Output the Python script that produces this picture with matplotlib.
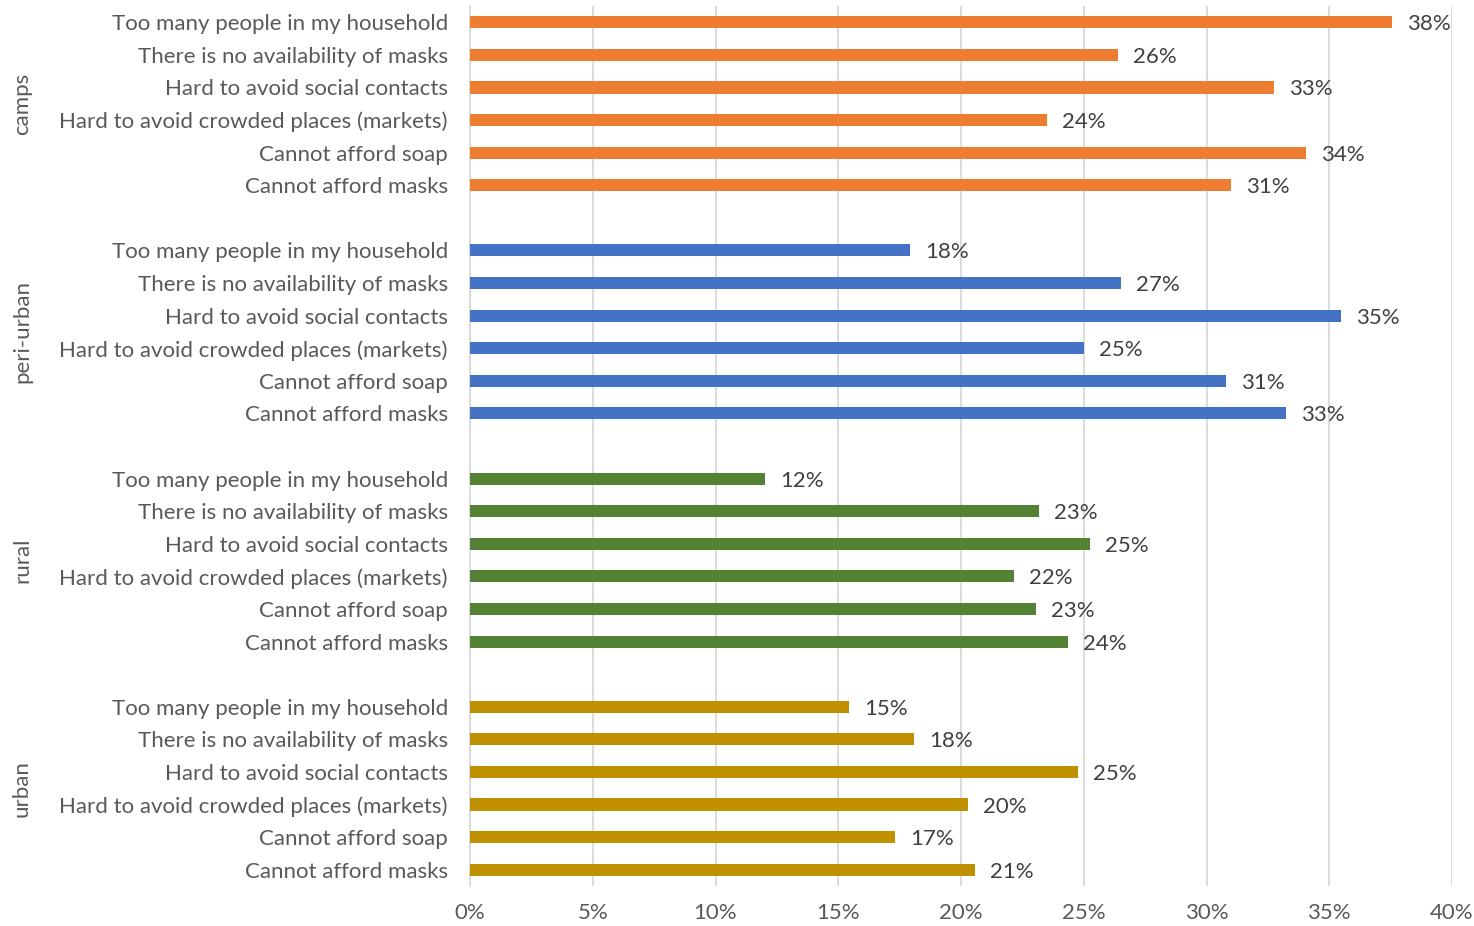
import matplotlib.pyplot as plt
from matplotlib.ticker import PercentFormatter

plt.rcParams['font.family'] = ['Lato', 'DejaVu Sans']

groups = ['camps', 'peri-urban', 'rural', 'urban']
reasons = ['Too many people in my household',
           'There is no availability of masks',
           'Hard to avoid social contacts',
           'Hard to avoid crowded places (markets)',
           'Cannot afford soap',
           'Cannot afford masks']

# share of respondents per reason, one list per area
camps = [0.3756, 0.2640, 0.3275, 0.2350, 0.3405, 0.3100]
peri_urban = [0.1792, 0.2652, 0.3547, 0.2501, 0.3079, 0.3324]
rural = [0.1202, 0.2318, 0.2525, 0.2216, 0.2305, 0.2436]
urban = [0.1544, 0.1809, 0.2477, 0.2029, 0.1731, 0.2057]

values = [camps, peri_urban, rural, urban]
colors = ['#ED7D31', '#4472C4', '#548235', '#BF9000']

fig = plt.figure(figsize=(14.74, 9.26), dpi=100)
ax = fig.add_axes([470/1474, 1-886/926, (1452-470)/1474, 880/926])
ax.set_ylim(26.5, -0.5)
ax.set_xlim(0, 0.40)

ticks = []
ticklabels = []
for g, (name, vals, col) in enumerate(zip(groups, values, colors)):
    pos = [g*7 + j for j in range(len(reasons))]
    ax.barh(pos, vals, height=0.37, color=col, zorder=3)
    for p, v in zip(pos, vals):
        ax.annotate(f'{v:.0%}', (v, p), xytext=(11, 0), textcoords='offset points',
                    va='center_baseline', ha='left', fontsize=16, color='#404040')
    ticks += pos
    ticklabels += reasons
    # area name on the left, centred on its block of bars
    ax.text(-0.1825, g*7 + 2.5, name, rotation=90, ha='center', va='center',
            fontsize=16, color='#595959', clip_on=False)

ax.set_yticks(ticks)
ax.set_yticklabels(ticklabels, fontsize=16, color='#595959', va='center_baseline')
ax.set_xticks([i*0.05 for i in range(9)])
ax.xaxis.set_major_formatter(PercentFormatter(1.0, decimals=0))
ax.tick_params(axis='x', labelsize=16, labelcolor='#595959', length=0, pad=12)
ax.tick_params(axis='y', length=0, pad=16)
ax.grid(axis='x', color='#D9D9D9', linewidth=1.3, zorder=0)
for s in ['top', 'right', 'bottom']:
    ax.spines[s].set_visible(False)
ax.spines['left'].set_color('#D9D9D9')
ax.spines['left'].set_linewidth(1.3)

fig.savefig('out.png')
